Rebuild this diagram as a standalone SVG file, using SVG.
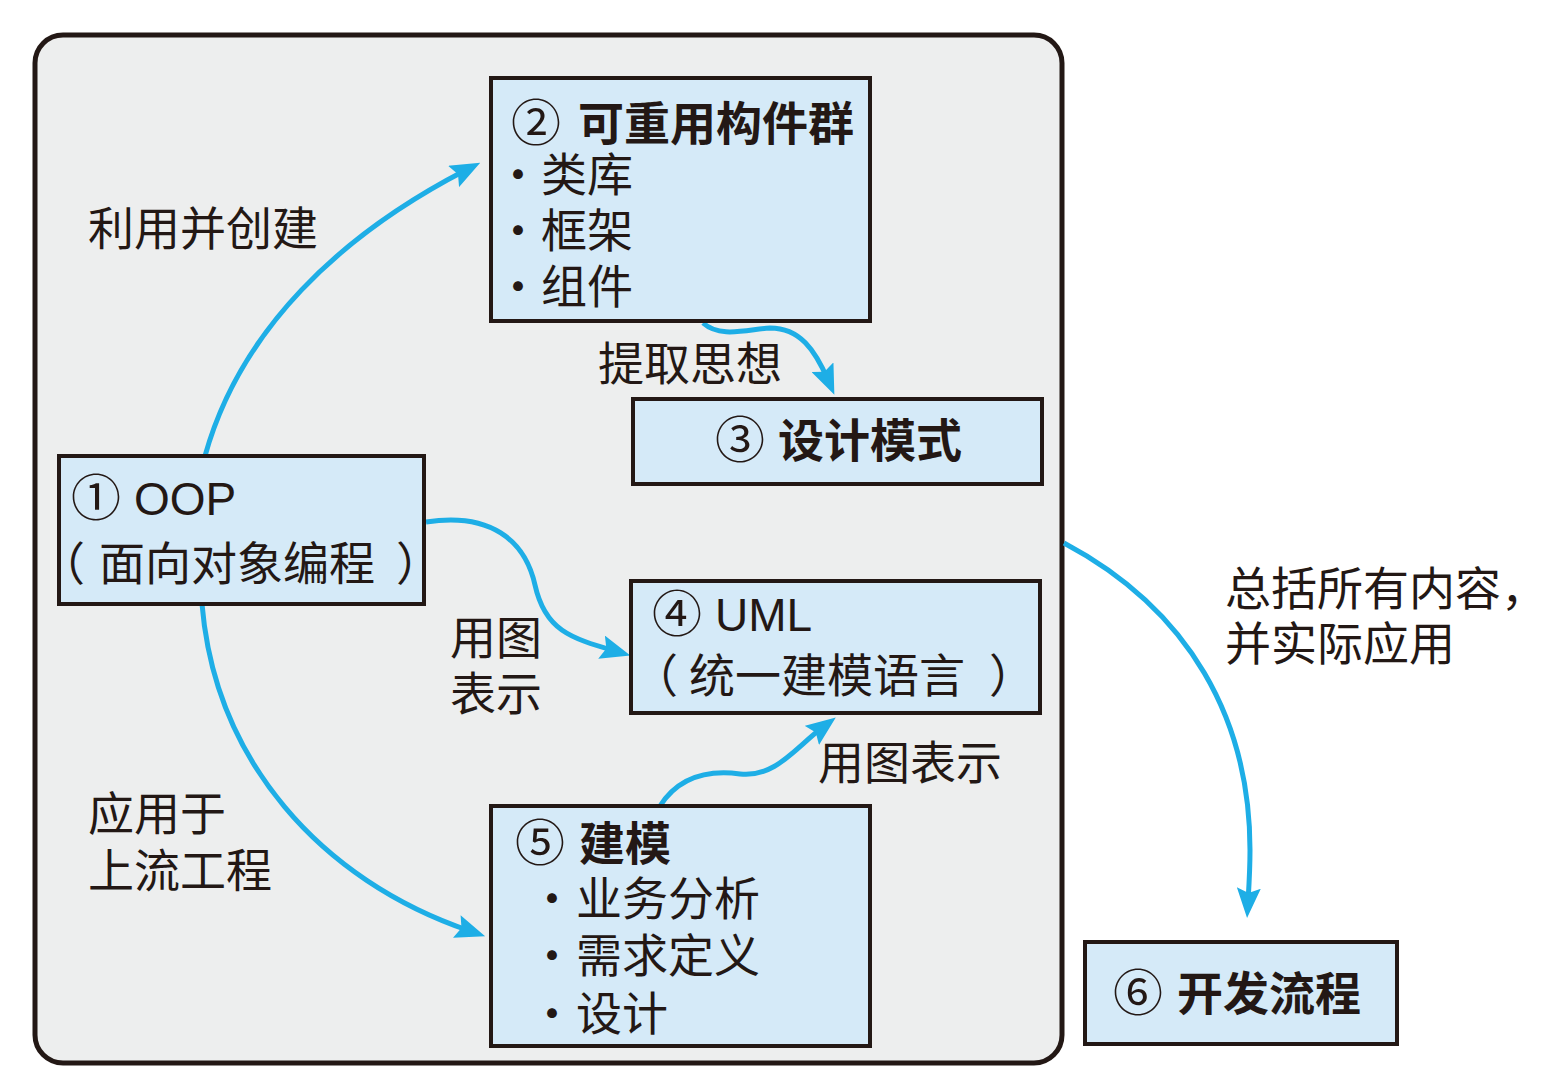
<svg xmlns="http://www.w3.org/2000/svg" width="1554" height="1088" viewBox="0 0 1554 1088">
<defs>
<style>
.t{font-family:"Noto Sans CJK SC","Noto Sans",sans-serif;font-size:46px;fill:#231815}
.b{font-weight:700}
.c{font-size:50px}
.lat{font-family:"Liberation Sans","Noto Sans CJK SC",sans-serif}
.node{fill:#d5eaf8;stroke:#231815;stroke-width:4}
.conn{fill:none;stroke:#1eaee6;stroke-width:5}
</style>
<marker id="ah" viewBox="0 0 30 24" refX="14" refY="12" markerWidth="30" markerHeight="24" markerUnits="userSpaceOnUse" orient="auto">
<path d="M0,0 L30,12 L0,24 L5,12 z" fill="#1eaee6"/>
</marker>
</defs>
<rect width="1554" height="1088" fill="#ffffff"/>
<g id="frame">
<rect x="35" y="35" width="1027" height="1028" rx="28" ry="28" fill="#edeeee" stroke="#231815" stroke-width="5"/>
</g>
<g id="connectors">
<path class="conn" marker-end="url(#ah)" d="M205,456 C 240,330 340,235 466,170"/>
<path class="conn" marker-end="url(#ah)" d="M703,323 C 720,338 745,330 770,328 C 800,328 815,350 828,380"/>
<path class="conn" marker-end="url(#ah)" d="M426,522 C 490,512 525,540 535,585 C 545,630 570,638 615,651"/>
<path class="conn" marker-end="url(#ah)" d="M202,604 C 215,760 320,880 470,931"/>
<path class="conn" marker-end="url(#ah)" d="M660,806 C 680,775 710,770 740,774 C 775,778 795,748 823,727"/>
<path class="conn" marker-end="url(#ah)" d="M1064,543 C 1190,610 1250,720 1250,850 C 1250,870 1249,885 1248,902"/>
</g>
<g id="labels">
<text class="t" x="88" y="245">利用并创建</text>
<text class="t" x="598" y="380">提取思想</text>
<text class="t" x="450" y="654">用图</text>
<text class="t" x="450" y="710">表示</text>
<text class="t" x="818" y="779">用图表示</text>
<text class="t" x="88" y="830">应用于</text>
<text class="t" x="88" y="887">上流工程</text>
<text class="t" x="1225" y="605">总括所有内容，</text>
<text class="t" x="1225" y="660">并实际应用</text>
</g>
<g id="node1">
<rect class="node" x="59" y="456" width="365" height="148"/>
<text class="t c" x="71" y="516">①</text>
<text class="t lat" x="134" y="515">OOP</text>
<text class="t" x="39" y="580">（</text>
<text class="t" x="99" y="580">面向对象编程</text>
<text class="t" x="396" y="580">）</text>
</g>
<g id="node2">
<rect class="node" x="491" y="78" width="379" height="243"/>
<text class="t c" x="511" y="141">②</text>
<text class="t b" x="578" y="140">可重用构件群</text>
<text class="t" x="495" y="191">·</text>
<text class="t" x="541" y="191">类库</text>
<text class="t" x="495" y="247">·</text>
<text class="t" x="541" y="247">框架</text>
<text class="t" x="495" y="303">·</text>
<text class="t" x="541" y="303">组件</text>
</g>
<g id="node3">
<rect class="node" x="633" y="399" width="409" height="85"/>
<text class="t c" x="715" y="458">③</text>
<text class="t b" x="778" y="457">设计模式</text>
</g>
<g id="node4">
<rect class="node" x="631" y="581" width="409" height="132"/>
<text class="t c" x="652" y="632">④</text>
<text class="t lat" x="715" y="631">UML</text>
<text class="t" x="632" y="692">（</text>
<text class="t" x="689" y="692">统一建模语言</text>
<text class="t" x="989" y="692">）</text>
</g>
<g id="node5">
<rect class="node" x="491" y="806" width="379" height="240"/>
<text class="t c" x="515" y="861">⑤</text>
<text class="t b" x="579" y="860">建模</text>
<text class="t" x="529" y="915">·</text>
<text class="t" x="576" y="915">业务分析</text>
<text class="t" x="529" y="972">·</text>
<text class="t" x="576" y="972">需求定义</text>
<text class="t" x="529" y="1030">·</text>
<text class="t" x="576" y="1030">设计</text>
</g>
<g id="node6">
<rect class="node" x="1085" y="942" width="312" height="102"/>
<text class="t c" x="1113" y="1011">⑥</text>
<text class="t b" x="1177" y="1010">开发流程</text>
</g>
</svg>
